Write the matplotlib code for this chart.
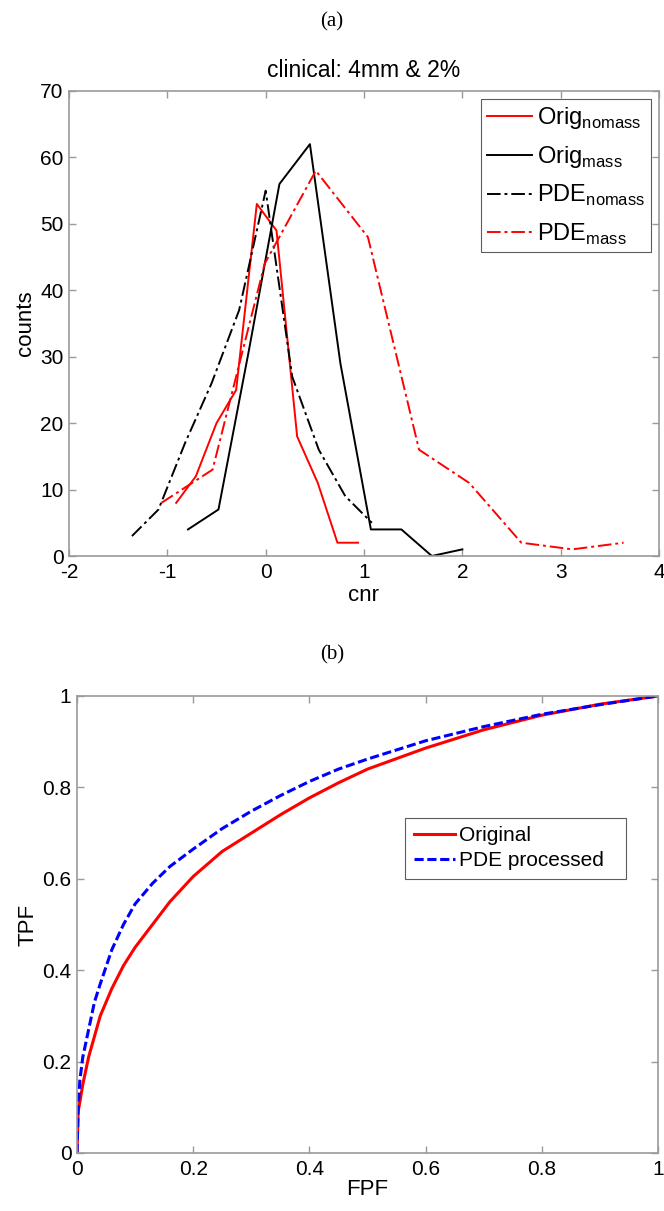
import matplotlib
matplotlib.use("Agg")
import matplotlib.pyplot as plt

plt.rcParams['font.family'] = ['Liberation Sans', 'DejaVu Sans']
plt.rcParams['mathtext.fontset'] = 'custom'
plt.rcParams['mathtext.rm'] = 'Liberation Sans'
plt.rcParams['axes.unicode_minus'] = False

# (a) histogram of cnr values
cnr_orig_nomass = [-0.91, -0.71, -0.50, -0.30, -0.09, 0.11, 0.32, 0.53, 0.73, 0.94]
cnt_orig_nomass = [8, 12, 20, 25, 53, 49, 18, 11, 2, 2]
cnr_orig_mass = [-0.79, -0.48, -0.17, 0.14, 0.45, 0.76, 1.07, 1.38, 1.69, 2.00]
cnt_orig_mass = [4, 7, 31, 56, 62, 29, 4, 4, 0, 1]
cnr_pde_nomass = [-1.36, -1.09, -0.82, -0.55, -0.27, 0.00, 0.27, 0.54, 0.81, 1.08]
cnt_pde_nomass = [3, 7, 17, 26, 37, 55, 27, 16, 9, 5]
cnr_pde_mass = [-1.06, -0.54, -0.01, 0.51, 1.04, 1.56, 2.07, 2.60, 3.12, 3.64]
cnt_pde_mass = [8, 13, 44, 58, 48, 16, 11, 2, 1, 2]

# (b) ROC curves
fpf_orig = [0, 0.002, 0.01, 0.02, 0.04, 0.06, 0.08, 0.10, 0.13, 0.16, 0.20,
            0.25, 0.30, 0.35, 0.40, 0.45, 0.50, 0.60, 0.70, 0.80, 0.90, 1.0]
tpf_orig = [0, 0.09, 0.15, 0.21, 0.30, 0.36, 0.41, 0.45, 0.50, 0.55, 0.605,
            0.66, 0.70, 0.74, 0.777, 0.81, 0.84, 0.886, 0.926, 0.958, 0.982, 1.0]
fpf_pde = [0, 0.002, 0.005, 0.01, 0.02, 0.03, 0.04, 0.06, 0.08, 0.10, 0.13,
           0.16, 0.20, 0.25, 0.30, 0.35, 0.40, 0.45, 0.50, 0.60, 0.70, 0.80,
           0.90, 1.0]
tpf_pde = [0, 0.10, 0.16, 0.21, 0.27, 0.33, 0.37, 0.445, 0.50, 0.545, 0.59,
           0.627, 0.665, 0.71, 0.748, 0.782, 0.813, 0.84, 0.862, 0.902, 0.933,
           0.96, 0.981, 1.0]

fig = plt.figure(figsize=(6.64, 12.11), dpi=100)
spine_col = '#9a9a9a'


def style_axes(ax):
    for s in ax.spines.values():
        s.set_color(spine_col)
        s.set_linewidth(1.2)
    ax.tick_params(direction='in', length=5, width=1, color=spine_col,
                   top=True, right=True, labelsize=15)
    ax.tick_params(axis='x', pad=5)
    ax.tick_params(axis='y', pad=4)


# ---- panel (a)
ax1 = fig.add_axes([69 / 664, 1 - 556 / 1211, 590 / 664, 465 / 1211])
ddot = (0, (7, 2, 1.5, 2))
ax1.plot(cnr_orig_nomass, cnt_orig_nomass, color='red', lw=1.4,
         label=r'Orig$_{\mathregular{nomass}}$')
ax1.plot(cnr_orig_mass, cnt_orig_mass, color='black', lw=1.4,
         label=r'Orig$_{\mathregular{mass}}$')
ax1.plot(cnr_pde_nomass, cnt_pde_nomass, color='black', lw=1.4, ls=ddot,
         label=r'PDE$_{\mathregular{nomass}}$')
ax1.plot(cnr_pde_mass, cnt_pde_mass, color='red', lw=1.4, ls=ddot,
         label=r'PDE$_{\mathregular{mass}}$')
ax1.set_xlim(-2, 4)
ax1.set_ylim(0, 70)
ax1.set_xticks(range(-2, 5))
ax1.set_yticks(range(0, 71, 10))
style_axes(ax1)
ax1.set_xlabel('cnr', fontsize=16, labelpad=2)
ax1.set_ylabel('counts', fontsize=16, labelpad=3)
ax1.set_title('clinical: 4mm & 2%', fontsize=16.5, pad=10)
leg1 = ax1.legend(loc='upper right', fontsize=17, frameon=True, fancybox=False,
                  handlelength=1.9, handletextpad=0.2, borderpad=0.25,
                  labelspacing=0.55, borderaxespad=0.35)
leg1.get_frame().set_edgecolor('#333333')
leg1.get_frame().set_linewidth(0.8)

# ---- panel (b)
ax2 = fig.add_axes([77 / 664, 1 - 1153 / 1211, 581 / 664, 457 / 1211])
ax2.plot(fpf_orig, tpf_orig, color='red', lw=2.2, label='Original')
ax2.plot(fpf_pde, tpf_pde, color='blue', lw=2.2, ls=(0, (3, 1.2)),
         label='PDE processed')
ax2.set_xlim(0, 1)
ax2.set_ylim(0, 1)
ax2.set_xticks([0, 0.2, 0.4, 0.6, 0.8, 1])
ax2.set_xticklabels(['0', '0.2', '0.4', '0.6', '0.8', '1'])
ax2.set_yticks([0, 0.2, 0.4, 0.6, 0.8, 1])
ax2.set_yticklabels(['0', '0.2', '0.4', '0.6', '0.8', '1'])
style_axes(ax2)
ax2.set_xlabel('FPF', fontsize=16, labelpad=0)
ax2.set_ylabel('TPF', fontsize=16, labelpad=3)
leg2 = ax2.legend(loc='lower left', bbox_to_anchor=(0.565, 0.6, 0.38, 0.14),
                  mode='expand', fontsize=15, frameon=True, fancybox=False,
                  handlelength=2.0, handletextpad=0.2, borderpad=0.4,
                  labelspacing=0.3, borderaxespad=0)
leg2.get_frame().set_edgecolor('#333333')
leg2.get_frame().set_linewidth(0.8)

fig.text(0.5, 1 - 22 / 1211, '(a)', ha='center', va='center', fontsize=15,
         family='Liberation Serif')
fig.text(0.5, 1 - 655 / 1211, '(b)', ha='center', va='center', fontsize=15,
         family='Liberation Serif')

fig.savefig('out.png', dpi=100)
